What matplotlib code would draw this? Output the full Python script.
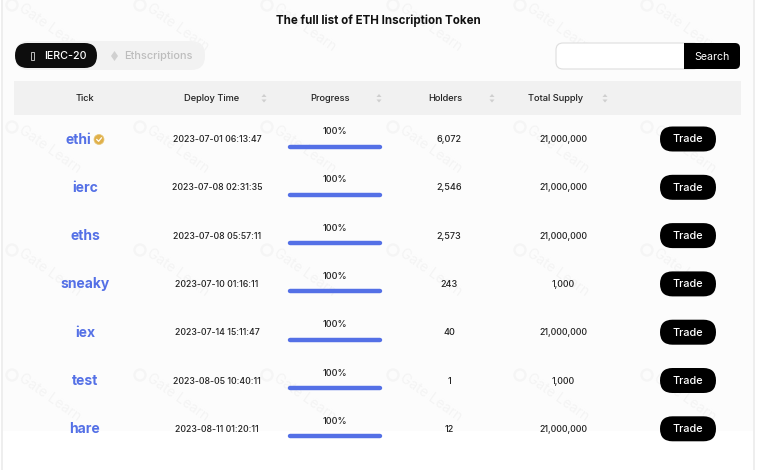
# -*- coding: utf-8 -*-
"""
Table of ETH inscription tokens drawn with matplotlib
"""
#Importing libraries
import matplotlib
matplotlib.use("Agg")
import matplotlib.pyplot as plt
from matplotlib.patches import FancyBboxPatch, Circle, Polygon

plt.rcParams['font.family'] = ['Inter', 'DejaVu Sans']

#Table data
ticks = ["ethi", "ierc", "eths", "sneaky", "iex", "test", "hare"]
deploy_times = ["2023-07-01 06:13:47", "2023-07-08 02:31:35", "2023-07-08 05:57:11",
                "2023-07-10 01:16:11", "2023-07-14 15:11:47", "2023-08-05 10:40:11",
                "2023-08-11 01:20:11"]
progress = [100, 100, 100, 100, 100, 100, 100]
holders = ["6,072", "2,546", "2,573", "243", "40", "1", "12"]
supply = ["21,000,000", "21,000,000", "21,000,000", "1,000", "21,000,000", "1,000", "21,000,000"]
headers = ["Tick", "Deploy Time", "Progress", "Holders", "Total Supply"]
tabs = ["IERC-20", "Ethscriptions"]

#Layout of the columns and rows, in pixels
header_x = [85, 212, 330, 445, 556]
sort_x = [264, 379, 492, 605]
row_y0 = 139
row_step = 48.3
bar_x0 = 290
bar_full = 90
DARK = "#222222"
BLUE = "#5470e6"

fig = plt.figure(figsize=(7.6, 4.7), dpi=100, facecolor="#ffffff")
ax = fig.add_axes([0, 0, 1, 1])
ax.set_xlim(0, 760)
ax.set_ylim(470, 0)
ax.axis("off")


#Function to draw a rounded box
def roundBox(x0, y0, x1, y1, r, color, edge="none", z=2, lw=1):
    box = FancyBboxPatch((x0 + r, y0 + r), x1 - x0 - 2 * r, y1 - y0 - 2 * r,
                         boxstyle="round,pad=%f,rounding_size=%f" % (r, r),
                         facecolor=color, edgecolor=edge, linewidth=lw, zorder=z)
    ax.add_patch(box)


#Card behind everything, the tint stops above the last row but the border goes on
roundBox(2, -20, 754, 500, 10, "#ffffff", edge="#e8e8e8", z=0)
ax.add_patch(plt.Rectangle((3, 0), 750, 431, facecolor="#fcfcfc", zorder=0.5))

#Title
ax.text(378, 20.5, "The full list of ETH Inscription Token", ha="center", va="center",
        fontsize=8.3, fontweight="bold", color="#111111")

#Tabs
roundBox(15, 41, 205, 70, 14, "#f2f2f2", z=1)
roundBox(15, 43, 97, 68, 12.5, "#0d0d0d")
ax.add_patch(plt.Rectangle((31, 52), 3, 8, fill=False, edgecolor="#bbbbbb", lw=0.7, zorder=3))
ax.text(65, 56, tabs[0], ha="center", va="center", fontsize=7.7, fontweight="medium", color="white", zorder=3)
ax.add_patch(Polygon([[114.5, 51], [118, 56], [114.5, 61], [111, 56]], facecolor="#d0d0d0", zorder=3))
ax.text(158.5, 56, tabs[1], ha="center", va="center", fontsize=7.9, fontweight="medium", color="#bdbdbd", zorder=3)

#Search box
roundBox(556, 43, 700, 69, 7, "white", edge="#dedede", lw=0.8)
roundBox(684, 43, 740, 69, 5, "#000000", z=3)
ax.add_patch(plt.Rectangle((684, 43), 8, 26, facecolor="#000000", zorder=3))
ax.text(712, 56.5, "Search", ha="center", va="center", fontsize=7.6, color="white", zorder=4)

#Header band
ax.add_patch(plt.Rectangle((14, 81), 727, 34, facecolor="#f1f1f1", zorder=1))
for x, label in zip(header_x, headers):
    ax.text(x, 98.5, label, ha="center", va="center", fontsize=6.7, fontweight="medium", color=DARK, zorder=3)
for x in sort_x:
    ax.add_patch(Polygon([[x - 2.5, 97], [x + 2.5, 97], [x, 94]], facecolor="#cfcfcf", zorder=3))
    ax.add_patch(Polygon([[x - 2.5, 99.5], [x + 2.5, 99.5], [x, 102.5]], facecolor="#cfcfcf", zorder=3))

#Watermark
for wy in [5, 127, 250, 375]:
    for wx in [12, 140, 267, 393, 520, 647]:
        ax.add_patch(Circle((wx, wy), 5.5, fill=False, edgecolor="#f5f5f5", lw=1.6, zorder=1.5))
        ax.text(wx + 8, wy + 2, "Gate Learn", rotation=-35, rotation_mode="anchor", ha="left",
                va="center", fontsize=10, color="#f4f4f4", zorder=1.5)

#Rows
for i in range(len(ticks)):
    y = row_y0 + i * row_step
    tick_x = 78 if i == 0 else 85
    ax.text(tick_x, y + 0.5, ticks[i], ha="center", va="center", fontsize=10, fontweight="bold",
            color=BLUE, zorder=3)
    ax.text(217, y + 0.5, deploy_times[i], ha="center", va="center", fontsize=6.3, fontweight="medium", color=DARK, zorder=3)
    ax.text(335, y - 7.5, "%d%%" % progress[i], ha="center", va="center", fontsize=6.5, fontweight="medium", color=DARK, zorder=3)
    ax.plot([bar_x0, bar_x0 + bar_full * progress[i] / 100], [y + 7.5, y + 7.5], color=BLUE,
            lw=3.2, solid_capstyle="round", zorder=3)
    ax.text(449, y + 0.5, holders[i], ha="center", va="center", fontsize=6.5, fontweight="medium", color=DARK, zorder=3)
    ax.text(563, y + 0.5, supply[i], ha="center", va="center", fontsize=6.3, fontweight="medium", color=DARK, zorder=3)
    roundBox(660, y - 12.5, 716, y + 12.5, 12.5, "#000000")
    ax.text(688, y + 0.5, "Trade", ha="center", va="center", fontsize=7.8, fontweight="medium", color="white", zorder=4)

#Gold badge next to the first tick
ax.add_patch(Circle((99, row_y0 + 0.5), 5, facecolor="#e0b04a", edgecolor="#e8c878", lw=0.5, zorder=3))
ax.plot([96.8, 98.6, 101.4], [row_y0 + 0.5, row_y0 + 2.3, row_y0 - 1.1], color="white", lw=0.9, zorder=4)

plt.savefig("out.png", dpi=100)
